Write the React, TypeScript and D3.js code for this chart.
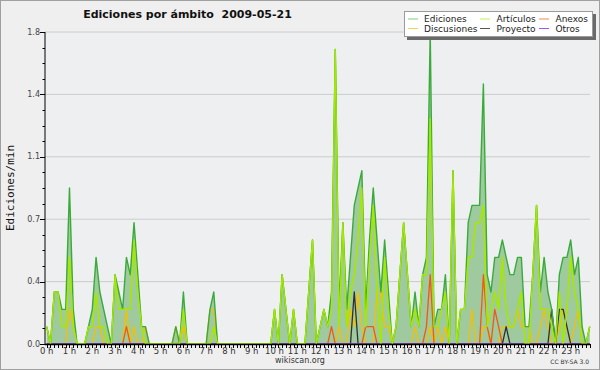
import React from 'react';
import * as d3 from 'd3';

const W = 600;
const H = 370;

// one value every 10 minutes (144 per day), edits per minute
const ediciones = [
  0.1, 0, 0.3, 0.3, 0.2, 0.2,
  0.9, 0.2, 0, 0, 0, 0.1,
  0.2, 0.5, 0.3, 0.2, 0.1, 0,
  0.4, 0.3, 0.2, 0.5, 0.4, 0.7,
  0.4, 0.1, 0.1, 0, 0, 0,
  0, 0, 0, 0, 0.1, 0,
  0.3, 0, 0, 0, 0, 0,
  0, 0.2, 0.3, 0, 0, 0,
  0, 0, 0, 0, 0, 0,
  0, 0, 0, 0, 0, 0,
  0.2, 0, 0.4, 0.2, 0, 0.2,
  0, 0, 0, 0.3, 0.6, 0,
  0.1, 0.2, 0.1, 0.3, 1.7, 0.2,
  0.7, 0.2, 0.5, 0.8, 0.9, 1.0,
  0.2, 0.6, 0.9, 0.6, 0.3, 0.6,
  0.3, 0, 0.1, 0.4, 0.7, 0.4,
  0.1, 0.3, 0.1, 0.4, 0.5, 1.8,
  0.1, 0.2, 0.2, 0.4, 0, 1.0,
  0, 0.2, 0.2, 0.7, 0.8, 0.8,
  0.8, 1.5, 0.4, 0.3, 0.5, 0.5,
  0.6, 0.5, 0.4, 0.4, 0.5, 0.5,
  0.1, 0.1, 0.4, 0.8, 0.3, 0.5,
  0.3, 0.2, 0, 0.4, 0.5, 0.5,
  0.6, 0.4, 0.5, 0.1, 0, 0.1,
];

const articulos = [
  0.1, 0, 0.3, 0.3, 0.1, 0.1,
  0.5, 0.1, 0, 0, 0, 0.1,
  0.1, 0.3, 0.1, 0.1, 0, 0,
  0.4, 0.2, 0.2, 0.2, 0.2, 0.6,
  0.3, 0.1, 0, 0, 0, 0,
  0, 0, 0, 0, 0, 0,
  0.2, 0, 0, 0, 0, 0,
  0, 0, 0.1, 0, 0, 0,
  0, 0, 0, 0, 0, 0,
  0, 0, 0, 0, 0, 0,
  0.2, 0, 0.4, 0.2, 0, 0.2,
  0, 0, 0, 0.3, 0.6, 0,
  0.1, 0.2, 0.1, 0.2, 1.7, 0.1,
  0.7, 0.1, 0.3, 0.4, 0.6, 0.9,
  0.1, 0.5, 0.8, 0.3, 0, 0.5,
  0.2, 0, 0.1, 0.4, 0.7, 0.4,
  0.1, 0.2, 0.1, 0.4, 0.4, 1.3,
  0.1, 0.1, 0.2, 0.3, 0, 1.0,
  0, 0.2, 0.2, 0.5, 0.5, 0.7,
  0.7, 0.8, 0.1, 0.2, 0.3, 0.2,
  0.5, 0.2, 0.1, 0.1, 0.2, 0.3,
  0, 0, 0.4, 0.8, 0.2, 0.2,
  0.2, 0.1, 0, 0.3, 0, 0.2,
  0.5, 0.3, 0.2, 0, 0, 0.1,
];

const discusiones = [
  0, 0, 0, 0, 0, 0,
  0.2, 0.1, 0, 0, 0, 0,
  0, 0.1, 0.1, 0, 0, 0,
  0, 0, 0, 0.2, 0, 0.1,
  0, 0, 0.1, 0, 0, 0,
  0, 0, 0, 0, 0.1, 0,
  0.1, 0, 0, 0, 0, 0,
  0, 0.2, 0.2, 0, 0, 0,
  0, 0, 0, 0, 0, 0,
  0, 0, 0, 0, 0, 0,
  0, 0, 0, 0, 0, 0,
  0, 0, 0, 0, 0, 0,
  0, 0, 0, 0, 0, 0.1,
  0, 0, 0.2, 0.1, 0.3, 0.1,
  0, 0, 0, 0.3, 0.3, 0.1,
  0.1, 0, 0, 0, 0, 0,
  0, 0.1, 0, 0, 0, 0.1,
  0, 0.1, 0, 0.1, 0, 0,
  0, 0, 0, 0, 0.2, 0,
  0, 0.1, 0.1, 0, 0, 0,
  0.1, 0.1, 0.1, 0.1, 0.2, 0.1,
  0.1, 0.1, 0, 0, 0.1, 0.2,
  0.1, 0, 0, 0.1, 0.2, 0.1,
  0, 0.1, 0.2, 0, 0, 0,
];

const anexos = [
  0, 0, 0, 0, 0, 0,
  0, 0, 0, 0, 0, 0,
  0, 0, 0, 0, 0, 0,
  0, 0, 0, 0.1, 0, 0,
  0, 0, 0, 0, 0, 0,
  0, 0, 0, 0, 0, 0,
  0, 0, 0, 0, 0, 0,
  0, 0, 0, 0, 0, 0,
  0, 0, 0, 0, 0, 0,
  0, 0, 0, 0, 0, 0,
  0, 0, 0, 0, 0, 0,
  0, 0, 0, 0, 0, 0,
  0, 0, 0, 0.1, 0, 0,
  0, 0, 0, 0, 0, 0,
  0.1, 0.1, 0.1, 0, 0, 0,
  0, 0, 0, 0, 0, 0,
  0, 0, 0, 0, 0.1, 0.4,
  0, 0, 0, 0, 0, 0,
  0, 0, 0, 0, 0, 0,
  0, 0.4, 0.1, 0, 0.2, 0.1,
  0, 0, 0, 0, 0, 0,
  0, 0, 0, 0, 0, 0,
  0, 0, 0, 0, 0, 0,
  0, 0, 0, 0, 0, 0,
];

const proyecto = [
  0, 0, 0, 0, 0, 0,
  0, 0, 0, 0, 0, 0,
  0, 0, 0, 0, 0, 0,
  0, 0, 0, 0, 0, 0,
  0, 0, 0, 0, 0, 0,
  0, 0, 0, 0, 0, 0,
  0, 0, 0, 0, 0, 0,
  0, 0, 0, 0, 0, 0,
  0, 0, 0, 0, 0, 0,
  0, 0, 0, 0, 0, 0,
  0, 0, 0, 0, 0, 0,
  0, 0, 0, 0, 0, 0,
  0, 0, 0, 0, 0, 0,
  0, 0, 0, 0.3, 0, 0,
  0, 0, 0, 0, 0, 0,
  0, 0, 0, 0, 0, 0,
  0, 0, 0, 0, 0, 0,
  0, 0, 0, 0, 0, 0,
  0, 0, 0, 0, 0, 0,
  0, 0, 0, 0, 0, 0,
  0, 0.1, 0, 0, 0, 0,
  0, 0, 0, 0, 0, 0,
  0, 0.2, 0, 0.2, 0.2, 0.1,
  0, 0, 0, 0, 0, 0,
];

const otros = new Array(144).fill(0);

const hourLabels = d3.range(24).map((h) => `${h} h`);
const yTicks = [0, 0.36, 0.72, 1.08, 1.44, 1.8];

const series = [
  { name: 'Ediciones', values: ediciones, color: '#3aab3a', legend: '#7fcf7f' },
  { name: 'Artículos', values: articulos, color: '#a6e800', legend: '#c8ee60' },
  { name: 'Anexos', values: anexos, color: '#f05a10', legend: '#ee8a50' },
  { name: 'Discusiones', values: discusiones, color: '#f5c000', legend: '#f2d050' },
  { name: 'Proyecto', values: proyecto, color: '#303030', legend: '#555555' },
  { name: 'Otros', values: otros, color: '#9040e0', legend: '#9a5cf0' },
];

const font = 'DejaVu Sans, sans-serif';

export default function App() {
  const left = 45;
  const right = 590;
  const top = 32;
  const bottom = 344;

  const x = d3.scaleLinear().domain([0, 143]).range([46.7, 589.7]);
  const y = d3.scaleLinear().domain([0, 1.8]).range([bottom, top]);

  const line = d3.line<number>().x((_, i) => x(i)).y((d) => y(d));
  const area = d3.area<number>().x((_, i) => x(i)).y0(y(0)).y1((d) => y(d));

  const minorY = d3.range(0, 1.8001, 0.09);
  const drawOrder = ['Artículos', 'Discusiones', 'Anexos', 'Proyecto', 'Otros'];

  return (
    <svg width={W} height={H} style={{ position: 'absolute', left: 0, top: 0 }} fontFamily={font}>
      <rect x={0.5} y={0.5} width={W - 1} height={H - 1} fill="#efefef" stroke="#a0a0a0" />
      <rect x={left} y={top} width={right - left} height={bottom - top} fill="#edeff1" />

      {yTicks.map((t) => (
        <line key={t} x1={left} x2={right} y1={y(t)} y2={y(t)} stroke="#cccccc" />
      ))}

      <defs>
        <clipPath id="plot">
          <rect x={left} y={top - 2} width={right - left + 2} height={bottom - top + 2} />
        </clipPath>
      </defs>

      <g clipPath="url(#plot)">
        <path d={area(ediciones) || ''} fill="#9fc99f" />
        {drawOrder.map((n) => {
          const s = series.find((d) => d.name === n)!;
          return <path key={n} d={line(s.values) || ''} fill="none" stroke={s.color} strokeWidth={1.3} strokeLinejoin="round" />;
        })}
        <path d={line(ediciones) || ''} fill="none" stroke={series[0].color} strokeWidth={1.4} strokeLinejoin="round" />
        {drawOrder.slice(0, 1).map((n) => {
          const s = series.find((d) => d.name === n)!;
          return <path key={n + 'top'} d={line(s.values) || ''} fill="none" stroke={s.color} strokeWidth={1.3} strokeLinejoin="round" />;
        })}
      </g>

      {/* y axis */}
      <line x1={left} x2={left} y1={top} y2={bottom} stroke="#000" />
      {minorY.map((t, i) => (
        <line key={i} x1={left - 2.5} x2={left} y1={Math.round(y(t)) + 0.5} y2={Math.round(y(t)) + 0.5} stroke="#000" />
      ))}
      {yTicks.map((t) => (
        <g key={t}>
          <line x1={left - 5} x2={left} y1={Math.round(y(t)) + 0.5} y2={Math.round(y(t)) + 0.5} stroke="#000" />
          <text x={left - 5} y={y(t) + 2.5} fontSize={8} textAnchor="end" fill="#444">
            {d3.format('.1f')(t)}
          </text>
        </g>
      ))}
      <text
        transform={`translate(13.5, ${(top + bottom) / 2}) rotate(-90)`}
        fontSize={11}
        fontFamily="DejaVu Sans Mono, monospace"
        textAnchor="middle"
        fill="#111"
      >
        Ediciones/min
      </text>

      {/* x axis */}
      <line x1={left} x2={right} y1={bottom + 0.5} y2={bottom + 0.5} stroke="#000" strokeWidth={1.5} />
      {d3.range(144).map((i) => (
        <line key={i} x1={Math.round(x(i)) + 0.5} x2={Math.round(x(i)) + 0.5} y1={bottom} y2={bottom + 4} stroke="#000" />
      ))}
      {hourLabels.map((h, k) => (
        <text key={h} x={x(k * 6)} y={353.5} fontSize={8.5} textAnchor="middle" fill="#333">
          {h}
        </text>
      ))}

      {/* title */}
      <text x={187.5} y={18} fontSize={11} fontWeight="bold" textAnchor="middle" fill="#111" style={{ whiteSpace: 'pre' }}>
        {'Ediciones por ámbito  2009-05-21'}
      </text>

      {/* legend */}
      <rect x={407} y={14} width={189} height={26} fill="#6a6a6a" />
      <rect x={404.5} y={11.5} width={188} height={25} fill="#ffffff" stroke="#9a9a9a" />
      {[
        ['Ediciones', 408, 424, 19],
        ['Artículos', 480, 496.5, 19],
        ['Anexos', 539, 555.5, 19],
        ['Discusiones', 408, 424, 28.5],
        ['Proyecto', 480, 496.5, 28.5],
        ['Otros', 539, 555.5, 28.5],
      ].map(([name, lx, tx, ly]) => {
        const s = series.find((d) => d.name === name)!;
        return (
          <g key={name as string}>
            <line x1={lx as number} x2={(lx as number) + 10} y1={ly as number} y2={ly as number} stroke={s.legend} />
            <text x={tx as number} y={(ly as number) + 3.2} fontSize={9} fill="#222">
              {name}
            </text>
          </g>
        );
      })}

      <text x={300} y={363} fontSize={8} textAnchor="middle" fill="#333">
        wikiscan.org
      </text>
      <text x={589} y={364} fontSize={6} textAnchor="end" fill="#333">
        CC BY-SA 3.0
      </text>
    </svg>
  );
}
